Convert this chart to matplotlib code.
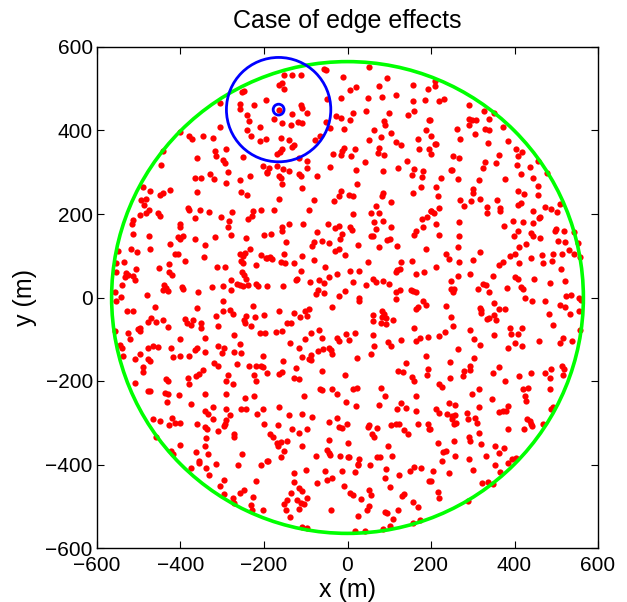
"""
Puntos de un proceso en un disco con el caso de efectos de borde.
"""
import numpy as np
import matplotlib.pyplot as plt
from matplotlib.patches import Circle

# puntos (x, y) en metros, leidos por zonas de la figura
pts_nw = [
    (-253, 492), (-247, 495), (-306, 467), (-258, 464), (-258, 451), (-196, 474), (-225, 462),
    (-241, 436), (-237, 423), (-210, 408), (-306, 408), (-241, 400), (-232, 386), (-210, 375),
    (-195, 379), (-402, 397), (-379, 387), (-372, 380), (-346, 386), (-321, 383), (-443, 350),
    (-318, 352), (-291, 355), (-314, 338), (-298, 330), (-294, 323), (-251, 336), (-360, 333),
    (-447, 318), (-202, 314), (-194, 301), (-287, 300), (-330, 295), (-366, 287), (-351, 286),
    (-320, 283), (-234, 290), (-258, 281), (-291, 274), (-489, 265), (-474, 254), (-426, 258),
    (-443, 251), (-448, 246), (-360, 252), (-254, 253), (-241, 246), (-495, 234), (-482, 235),
    (-488, 222), (-476, 210), (-482, 202), (-498, 198), (-454, 202), (-450, 196), (-382, 215),
    (-379, 210), (-354, 209), (-332, 205), (-276, 204), (-226, 207), (-206, 210), (-303, 194),
    (-229, 196),
]
pts_n = [
    (-151, 534), (-133, 532), (-112, 534), (-56, 547), (-51, 545), (52, 551), (-10, 527),
    (94, 526), (-164, 508), (-157, 514), (-151, 499), (6, 498), (20, 504), (75, 506),
    (158, 508), (192, 500), (-48, 476), (-16, 478), (49, 479), (83, 481), (115, 485),
    (157, 471), (185, 474), (-164, 450), (-111, 460), (-108, 454), (-96, 443), (-134, 440),
    (-176, 428), (-158, 419), (-136, 412), (-118, 420), (-108, 417), (-52, 421), (-43, 406),
    (-28, 434), (-15, 431), (6, 425), (12, 443), (44, 446), (99, 441), (145, 438),
    (159, 447), (195, 425), (-159, 382), (-140, 378), (-129, 366), (-133, 360), (-156, 355),
    (-161, 348), (-168, 343), (-78, 377), (-66, 386), (-8, 404), (-8, 358), (-12, 350),
    (-16, 342), (-35, 343), (8, 338), (18, 355), (52, 377), (64, 402), (80, 385),
    (87, 422), (90, 412), (105, 393), (115, 372), (129, 366), (168, 379), (189, 402),
    (75, 358), (74, 346), (88, 342), (172, 355), (195, 355), (-96, 328), (-117, 334),
    (-189, 311), (-192, 299), (-170, 316), (-164, 291), (-160, 287), (-155, 308), (-140, 304),
    (-115, 295), (-112, 291), (-96, 309), (-72, 292), (-42, 313), (20, 306), (43, 325),
    (85, 304), (122, 310), (142, 328), (160, 308), (154, 294), (181, 302), (178, 288),
    (-156, 272), (-108, 262), (22, 271), (-16, 255), (-20, 242), (-32, 232), (3, 245),
    (12, 242), (86, 250), (82, 242), (158, 250), (175, 264), (-163, 237), (-80, 234),
    (103, 229), (69, 218), (-177, 209), (-92, 210), (13, 200), (57, 202), (76, 202),
    (200, 206),
]
pts_ne = [
    (210, 518), (210, 506), (218, 471), (231, 476), (291, 461), (327, 446), (351, 442),
    (198, 425), (291, 428), (298, 426), (308, 424), (292, 414), (340, 427), (262, 404),
    (330, 403), (338, 402), (373, 409), (305, 391), (200, 387), (270, 380), (337, 371),
    (384, 376), (209, 367), (213, 367), (200, 343), (253, 338), (267, 334), (362, 341),
    (404, 355), (419, 348), (408, 339), (330, 324), (356, 322), (457, 327), (407, 318),
    (436, 312), (325, 310), (247, 305), (251, 305), (477, 299), (416, 297), (224, 286),
    (264, 283), (314, 281), (377, 285), (444, 286), (211, 265), (301, 260), (300, 250),
    (409, 256), (423, 249), (457, 266), (457, 246), (216, 244), (269, 233), (295, 230),
    (318, 236), (357, 234), (416, 226), (408, 222), (280, 218), (334, 216), (365, 214),
    (220, 215), (200, 206), (207, 202), (333, 203), (366, 206), (444, 206), (473, 216),
    (487, 211), (502, 205), (510, 224), (460, 192),
]
pts_w = [
    (-365, 191), (-516, 175), (-514, 185), (-402, 175), (-400, 170), (-284, 184), (-286, 170),
    (-238, 188), (-514, 152), (-475, 148), (-405, 146), (-400, 140), (-394, 148), (-366, 140),
    (-317, 144), (-280, 149), (-242, 142), (-200, 149), (-426, 128), (-342, 125), (-550, 111),
    (-519, 116), (-504, 109), (-474, 116), (-413, 103), (-407, 104), (-389, 88), (-344, 96),
    (-257, 105), (-250, 100), (-246, 107), (-234, 116), (-206, 101), (-196, 94), (-554, 82),
    (-536, 84), (-428, 80), (-506, 68), (-452, 70), (-427, 62), (-420, 54), (-313, 73),
    (-294, 74), (-256, 88), (-251, 82), (-220, 77), (-554, 60), (-530, 58), (-533, 48),
    (-526, 53), (-514, 52), (-510, 42), (-253, 62), (-248, 54), (-242, 45), (-278, 43),
    (-539, 30), (-440, 30), (-443, 19), (-434, 22), (-431, 15), (-397, 24), (-395, 20),
    (-358, 12), (-324, 24), (-299, 28), (-278, 18), (-265, 33), (-258, 30), (-250, 28),
    (-239, 29), (-218, 33), (-214, 27), (-194, 28), (-558, 12), (-543, 2), (-554, -8),
    (-480, 7), (-298, -8), (-462, -23), (-361, -25), (-529, -32), (-514, -32), (-282, -30),
    (-274, -40), (-299, -33), (-226, -21), (-315, -44), (-242, -44), (-221, -47), (-200, -43),
    (-470, -48), (-479, -58), (-458, -58), (-443, -54), (-389, -52), (-384, -62), (-374, -66),
    (-370, -54), (-352, -61), (-350, -74), (-248, -54), (-246, -62), (-232, -68), (-431, -70),
    (-498, -72), (-502, -76), (-496, -80), (-558, -80), (-526, -85), (-520, -99), (-310, -68),
    (-342, -96), (-402, -100), (-273, -91), (-209, -85), (-198, -84), (-544, -113), (-541, -120),
    (-466, -115), (-454, -118), (-478, -122), (-422, -121), (-360, -121), (-366, -125), (-342, -131),
    (-310, -116), (-296, -120), (-257, -111), (-272, -130), (-254, -134), (-537, -140), (-498, -136),
    (-510, -147), (-478, -147), (-474, -152), (-418, -142), (-402, -140), (-379, -139), (-202, -139),
    (-301, -134), (-320, -156), (-309, -164), (-264, -160), (-236, -163), (-219, -164), (-206, -163),
    (-202, -167), (-491, -166), (-491, -178), (-345, -173), (-364, -188), (-355, -184), (-381, -194),
    (-434, -196), (-286, -186), (-224, -186), (-193, -180),
]
pts_c = [
    (190, 192), (178, 188), (-157, 170), (-157, 160), (-141, 176), (-106, 176), (-47, 176),
    (-30, 166), (-20, 172), (6, 170), (11, 162), (64, 180), (86, 184), (68, 164),
    (104, 168), (164, 160), (182, 168), (160, 150), (-183, 153), (-74, 157), (-12, 152),
    (-147, 132), (-80, 132), (-84, 124), (-60, 136), (-44, 131), (-17, 140), (56, 148),
    (61, 147), (76, 122), (94, 137), (101, 140), (119, 124), (189, 116), (24, 125),
    (-29, 112), (-21, 116), (-108, 99), (-192, 95), (-185, 96), (-180, 92), (-153, 103),
    (-160, 84), (-150, 83), (-127, 82), (-80, 91), (-7, 101), (48, 85), (127, 84),
    (155, 88), (115, 62), (119, 66), (125, 69), (164, 57), (184, 62), (-112, 64),
    (-55, 72), (6, 64), (28, 64), (-24, 56), (-45, 49), (-124, 43), (-120, 44),
    (-91, 36), (-68, 41), (-56, 34), (-70, 18), (-75, 8), (-56, 10), (14, 36),
    (44, 31), (62, 45), (69, 36), (84, 40), (100, 32), (115, 14), (125, 18),
    (152, 18), (158, 16), (164, 12), (-155, 28), (-6, 16), (-21, 4), (27, -2),
    (27, -8), (115, -4), (181, -8), (164, -27), (168, -22), (188, -19), (-36, -23),
    (-128, -37), (-102, -33), (-92, -28), (-96, -44), (-113, -47), (-163, -32), (-144, -61),
    (-136, -61), (60, -43), (60, -56), (83, -32), (88, -40), (82, -46), (92, -48),
    (80, -60), (92, -63), (110, -55), (159, -72), (-172, -83), (-158, -81), (-102, -99),
    (-88, -84), (-68, -79), (-62, -97), (-24, -98), (-20, -104), (-4, -87), (3, -101),
    (19, -84), (61, -91), (97, -107), (104, -116), (128, -102), (164, -104), (174, -96),
    (192, -95), (-137, -109), (-117, -120), (-88, -137), (-92, -147), (-88, -150), (-108, -142),
    (-70, -129), (-59, -124), (-44, -120), (-40, -126), (-36, -136), (23, -144), (56, -136),
    (63, -115), (-154, -151), (140, -156), (188, -140), (-123, -170), (-62, -176), (121, -175),
    (132, -178), (154, -190), (190, -185), (194, -171), (-157, -178), (-165, -184), (-7, -185),
    (-128, -194), (-117, -196),
]
pts_e = [
    (213, 175), (266, 181), (376, 172), (397, 184), (420, 182), (444, 178), (458, 190),
    (496, 160), (499, 164), (519, 160), (543, 156), (218, 149), (268, 148), (399, 148),
    (408, 159), (439, 154), (444, 147), (460, 142), (504, 136), (520, 132), (552, 131),
    (264, 122), (236, 105), (244, 92), (318, 108), (301, 91), (268, 84), (389, 99),
    (402, 105), (410, 120), (427, 129), (440, 95), (465, 101), (492, 104), (514, 105),
    (530, 114), (543, 103), (557, 98), (468, 83), (490, 88), (364, 77), (372, 85),
    (410, 82), (212, 74), (512, 68), (294, 56), (264, 52), (248, 39), (348, 52),
    (400, 50), (408, 45), (447, 44), (485, 35), (522, 40), (325, 32), (332, 31),
    (247, 21), (256, 20), (252, 12), (312, 20), (339, 13), (381, 23), (415, 26),
    (420, 21), (524, 4), (536, 5), (554, 0), (560, -6), (424, 0), (443, -9),
    (474, -8), (508, -19), (521, -23), (555, -32), (352, -12), (236, -20), (318, -24),
    (320, -30), (320, -38), (362, -28), (377, -27), (247, -46), (352, -41), (335, -52),
    (338, -49), (482, -40), (533, -40), (252, -68), (356, -55), (492, -65), (389, -72),
    (419, -72), (556, -77), (293, -79), (220, -92), (233, -82), (351, -91), (392, -87),
    (409, -88), (302, -100), (317, -113), (402, -109), (419, -116), (385, -120), (459, -103),
    (516, -98), (509, -108), (538, -104), (265, -124), (303, -146), (245, -155), (294, -163),
    (294, -173), (362, -166), (246, -192), (277, -187), (279, -175), (348, -180), (410, -187),
    (439, -180), (474, -180), (488, -171), (514, -164), (519, -172), (516, -185), (486, -194),
]
pts_sw = [
    (-510, -204), (-431, -200), (-379, -206), (-290, -200), (-274, -206), (-218, -200), (-478, -225),
    (-474, -224), (-436, -228), (-430, -230), (-432, -250), (-404, -233), (-342, -230), (-290, -230),
    (-246, -240), (-225, -236), (-374, -256), (-342, -272), (-334, -280), (-321, -262), (-291, -268),
    (-281, -281), (-256, -268), (-244, -267), (-216, -278), (-203, -267), (-465, -291), (-450, -295),
    (-420, -288), (-428, -305), (-414, -300), (-401, -300), (-360, -302), (-342, -311), (-336, -316),
    (-322, -291), (-292, -294), (-296, -308), (-293, -304), (-311, -320), (-273, -328), (-272, -334),
    (-199, -302), (-458, -334), (-339, -337), (-401, -354), (-342, -356), (-422, -368), (-418, -375),
    (-362, -369), (-334, -375), (-356, -392), (-356, -396), (-374, -408), (-338, -408), (-331, -424),
    (-315, -399), (-262, -400), (-252, -374), (-208, -400), (-192, -392), (-297, -436), (-306, -452),
    (-297, -470), (-249, -460), (-258, -468), (-274, -480), (-271, -492), (-219, -440), (-226, -477),
    (-231, -496), (-228, -508), (-203, -509),
]
pts_s = [
    (159, -200), (-66, -218), (-60, -222), (-36, -219), (-25, -230), (14, -220), (22, -216),
    (80, -216), (90, -236), (-103, -236), (-4, -250), (21, -260), (163, -236), (127, -252),
    (119, -268), (140, -265), (76, -257), (163, -272), (-163, -263), (-139, -282), (-108, -280),
    (-84, -286), (-24, -288), (-166, -306), (-133, -316), (-96, -314), (-115, -324), (-186, -328),
    (-178, -335), (-44, -298), (-20, -310), (-14, -312), (-1, -304), (48, -310), (52, -306),
    (70, -312), (58, -326), (64, -334), (104, -306), (117, -302), (124, -303), (135, -318),
    (146, -328), (169, -304), (194, -304), (196, -315), (-169, -348), (-166, -356), (-159, -346),
    (-145, -344), (-152, -368), (-160, -383), (-190, -392), (-108, -356), (-44, -341), (0, -348),
    (-50, -366), (-45, -372), (-42, -378), (-76, -380), (-19, -380), (0, -382), (4, -382),
    (28, -388), (24, -402), (25, -398), (54, -400), (71, -383), (77, -381), (96, -356),
    (106, -379), (92, -410), (159, -405), (175, -408), (149, -416), (-100, -413), (-128, -420),
    (-53, -416), (-12, -415), (19, -418), (-49, -436), (-36, -432), (-74, -444), (-128, -442),
    (-117, -456), (-110, -464), (-135, -468), (-145, -484), (-152, -495), (-121, -485), (-111, -492),
    (-105, -495), (-96, -481), (-117, -507), (-148, -510), (-138, -526), (-8, -451), (6, -468),
    (14, -474), (52, -461), (56, -474), (32, -483), (51, -500), (46, -508), (91, -433),
    (101, -455), (123, -425), (135, -471), (130, -476), (158, -490), (169, -502), (196, -439),
    (-40, -509), (25, -524), (90, -513), (94, -515), (109, -530), (120, -508), (157, -540),
    (174, -532), (-108, -550), (-96, -553), (17, -559), (42, -560), (86, -554), (102, -548),
]
pts_se = [
    (377, -200), (218, -208), (226, -214), (316, -220), (299, -232), (420, -220), (432, -216),
    (424, -236), (427, -248), (484, -219), (242, -252), (257, -258), (315, -262), (345, -242),
    (212, -268), (218, -276), (238, -280), (251, -283), (258, -281), (250, -292), (256, -302),
    (260, -300), (287, -276), (288, -290), (306, -288), (310, -300), (364, -274), (372, -273),
    (379, -272), (384, -260), (431, -290), (436, -296), (422, -316), (439, -304), (442, -308),
    (468, -303), (488, -268), (492, -263), (198, -316), (216, -348), (256, -344), (292, -334),
    (294, -344), (315, -325), (384, -316), (320, -352), (353, -356), (375, -360), (363, -372),
    (228, -369), (235, -368), (258, -380), (227, -392), (291, -388), (331, -380), (394, -387),
    (403, -384), (384, -397), (354, -400), (300, -412), (205, -416), (244, -420), (366, -417),
    (200, -439), (321, -444), (337, -442), (349, -447), (216, -465), (220, -480), (288, -488),
]

# disco de simulacion y circulos del punto con efecto de borde
disk_center = (0, 0)
disk_radius = 565
focus_center = (-165, 450)
outer_radius = 125
inner_radius = 13

zonas = [pts_nw, pts_n, pts_ne, pts_w, pts_c, pts_e, pts_sw, pts_s, pts_se]
pts = np.array([p for z in zonas for p in z], dtype=float)

plt.rcParams['font.family'] = ['Liberation Sans', 'DejaVu Sans']

fig = plt.figure(figsize=(6.27, 6.02), dpi=100)
ax = fig.add_axes([97 / 627, 54 / 602, 501 / 627, 501 / 602])

ax.plot(pts[:, 0], pts[:, 1], 'o', color='red', markersize=4.5,
        markeredgewidth=0, zorder=2)

ax.add_patch(Circle(disk_center, disk_radius, fill=False, edgecolor='#00ff00',
                    linewidth=2.6, zorder=3))
ax.add_patch(Circle(focus_center, outer_radius, fill=False, edgecolor='blue',
                    linewidth=2.0, zorder=4))
ax.add_patch(Circle(focus_center, inner_radius, fill=False, edgecolor='blue',
                    linewidth=2.0, zorder=4))

ax.set_xlim(-600, 600)
ax.set_ylim(-600, 600)
ax.set_xticks(np.arange(-600, 601, 200))
ax.set_yticks(np.arange(-600, 601, 200))
ax.tick_params(direction='in', top=True, right=True, length=5, width=0.8,
               labelsize=15)
ax.tick_params(axis='x', pad=6)
ax.tick_params(axis='y', pad=3)
for s in ax.spines.values():
    s.set_linewidth(1.0)

ax.set_title("Case of edge effects", fontsize=18, pad=14)
ax.set_xlabel("x (m)", fontsize=18, labelpad=2)
ax.set_ylabel("y (m)", fontsize=18, labelpad=6)

fig.savefig("out.png", dpi=100)
